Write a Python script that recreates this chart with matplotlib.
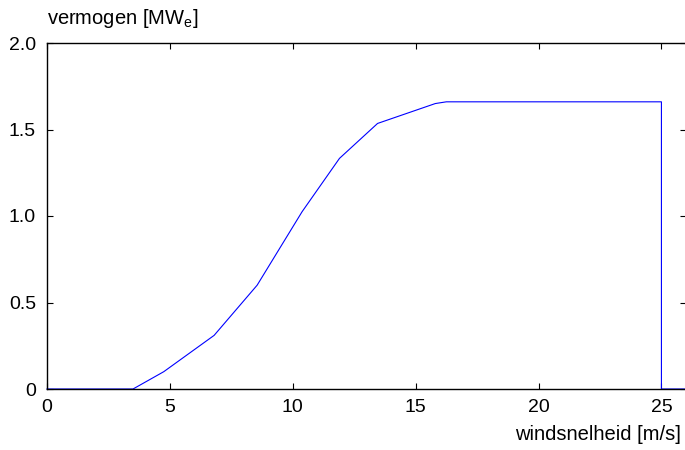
import matplotlib
matplotlib.use("Agg")
import matplotlib.pyplot as plt

plt.rcParams['font.family'] = ['Liberation Sans', 'DejaVu Sans']

wind_speed = [0, 3.5, 4.75, 6.8, 8.55, 10.38, 11.9, 13.45, 15.8, 16.25, 25, 25, 26]
power_mw = [0, 0, 0.1, 0.31, 0.6, 1.025, 1.333, 1.535, 1.65, 1.66, 1.66, 0, 0]
x_ticks = [0, 5, 10, 15, 20, 25]
y_ticks = [0, 0.5, 1.0, 1.5, 2.0]
y_tick_labels = ['0', '0.5', '1.0', '1.5', '2.0']

fig = plt.figure(figsize=(6.85, 4.5), dpi=100)
ax = fig.add_axes([47/685, 1-389/450, 639/685, 346/450])
ax.plot(wind_speed, power_mw, color='#0000ff', lw=0.8, clip_on=False)
ax.set_xlim(0, 26)
ax.set_ylim(0, 2.0)
ax.set_xticks(x_ticks)
ax.set_xticklabels([str(t) for t in x_ticks])
ax.set_yticks(y_ticks)
ax.set_yticklabels(y_tick_labels)
ax.tick_params(direction='in', length=4, width=0.8, top=True, right=True,
               labelsize=14)
ax.tick_params(axis='y', pad=8)
ax.tick_params(axis='x', pad=7)
for s in ax.spines.values():
    s.set_linewidth(1.0)
fig.text(47/685, 1-19/450, 'vermogen [MW$_\\mathregular{e}$]', fontsize=14.5,
         ha='left', va='center')
fig.text(681/685, 1-435/450, 'windsnelheid [m/s]', fontsize=14.5, ha='right', va='center')
fig.savefig('out.png', dpi=100)
